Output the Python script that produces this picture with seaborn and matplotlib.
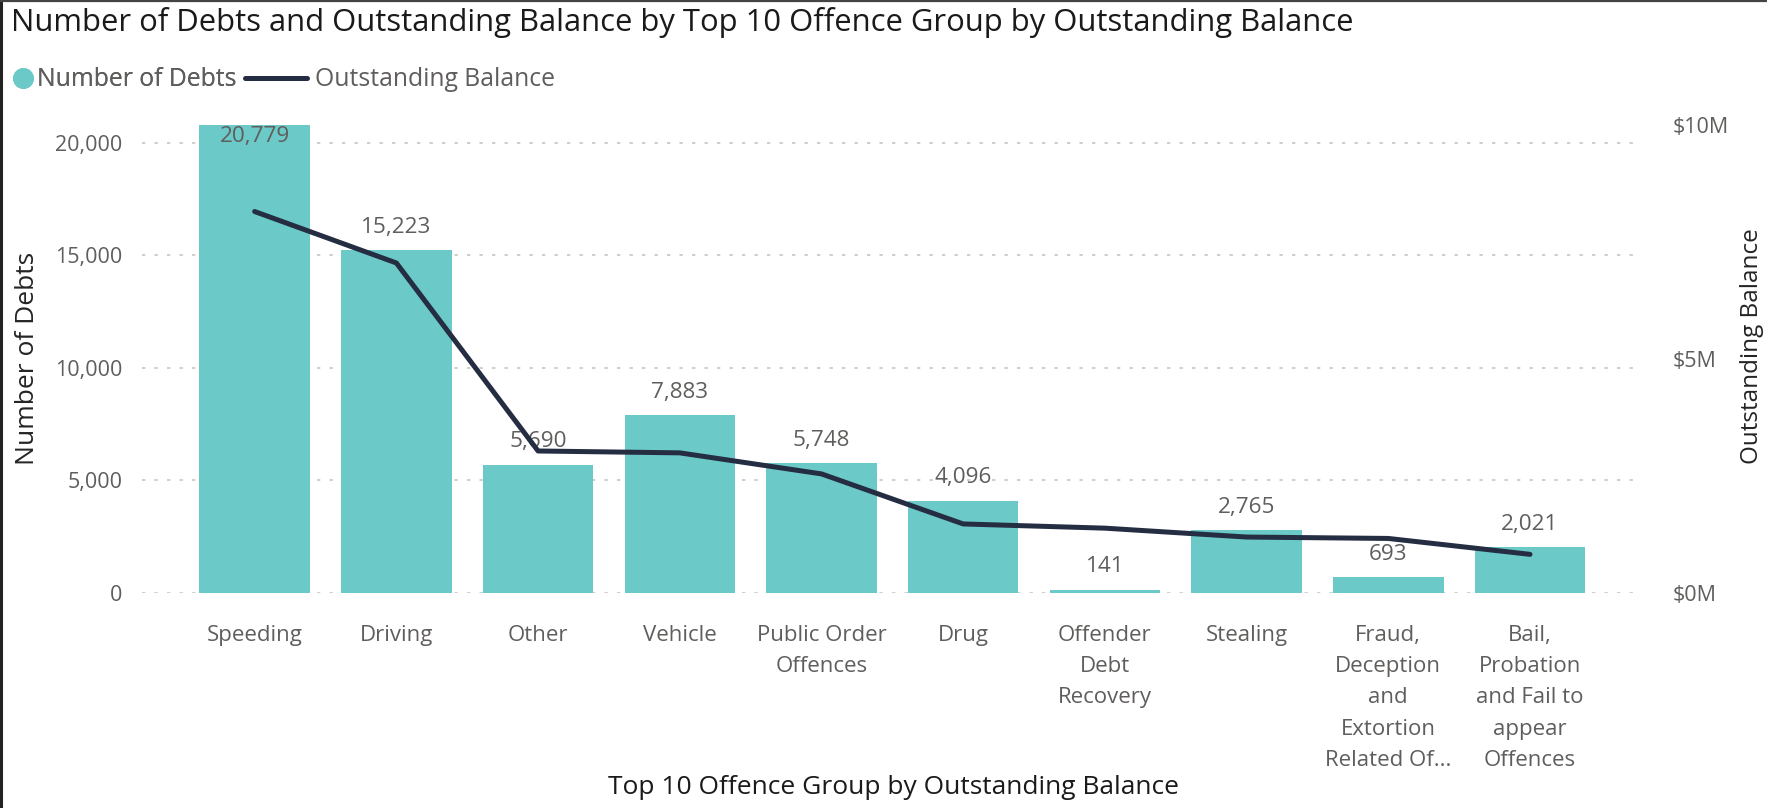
import matplotlib
matplotlib.use("Agg")
import matplotlib.pyplot as plt
import seaborn as sns
import numpy as np
import pandas as pd
from matplotlib.lines import Line2D
from matplotlib.ticker import FuncFormatter

# ---------------- data ----------------
categories = ["Speeding", "Driving", "Other", "Vehicle", "Public Order Offences", "Drug",
              "Offender Debt Recovery", "Stealing",
              "Fraud, Deception and Extortion Related Offences",
              "Bail, Probation and Fail to appear Offences"]
tick_labels = ["Speeding", "Driving", "Other", "Vehicle", "Public Order\nOffences", "Drug",
               "Offender\nDebt\nRecovery", "Stealing",
               "Fraud,\nDeception\nand\nExtortion\nRelated Of...",
               "Bail,\nProbation\nand Fail to\nappear\nOffences"]
num_debts = [20779, 15223, 5690, 7883, 5748, 4096, 141, 2765, 693, 2021]
balance_millions = [8.15, 7.05, 3.03, 2.99, 2.54, 1.47, 1.38, 1.19, 1.16, 0.82]
left_ticks = [0, 5000, 10000, 15000, 20000]
right_ticks_millions = [0, 5, 10]

BAR = "#6BC9C8"
LINE = "#252D42"
GREY = "#605E5C"
DARK = "#252423"
GRID = "#C8C6C4"

sns.set_theme(style="white")
plt.rcParams["font.family"] = ["Open Sans", "DejaVu Sans"]

W, H = 1767, 808
fig = plt.figure(figsize=(W / 100, H / 100), dpi=100)
fig.patch.set_facecolor("white")

x0, x1, ytop, ybot = 142, 1637, 125, 592.7
ax = fig.add_axes([x0 / W, 1 - ybot / H, (x1 - x0) / W, (ybot - ytop) / H])

df = pd.DataFrame({"Offence": categories, "Debts": num_debts,
                   "Balance": np.array(balance_millions) * 1e6})

sns.barplot(data=df, x="Offence", y="Debts", order=categories, color=BAR,
            saturation=1, width=0.78, linewidth=0, ax=ax, zorder=2)

ax.set_ylim(0, max(num_debts))
ax.set_yticks(left_ticks)
ax.yaxis.set_major_formatter(FuncFormatter(lambda v, p: f"{int(v):,}"))
ax.set_xticks(range(len(categories)))
ax.set_xticklabels(tick_labels, linespacing=1.65)
ax.tick_params(axis="x", length=0, pad=23, labelsize=16, labelcolor=GREY)
ax.tick_params(axis="y", length=0, pad=14, labelsize=15.5, labelcolor=GREY)
ax.grid(axis="y", color=GRID, linewidth=1.2, linestyle=(0, (2, 5.5)), zorder=0)
ax.set_axisbelow(True)
for s in ax.spines.values():
    s.set_visible(False)
ax.set_xlabel("")
ax.set_ylabel("")

# data labels
ymax = max(num_debts)
for i, v in enumerate(num_debts):
    if v > 0.95 * ymax:
        ax.annotate(f"{v:,}", (i, v), xytext=(0, -1), textcoords="offset points",
                    ha="center", va="top", fontsize=16.2, color=GREY, zorder=3)
    else:
        ax.annotate(f"{v:,}", (i, v), xytext=(0, 9), textcoords="offset points",
                    ha="center", va="bottom", fontsize=16.2, color=GREY, zorder=3)

# line on secondary axis
ax2 = ax.twinx()
sns.lineplot(x=np.arange(len(categories)), y=df["Balance"].values, ax=ax2, color=LINE,
             linewidth=3.6, sort=False, solid_capstyle="round", solid_joinstyle="round")
ax2.set_ylim(0, 10e6)
ax2.set_yticks([t * 1e6 for t in right_ticks_millions])
ax2.yaxis.set_major_formatter(FuncFormatter(lambda v, p: f"${v / 1e6:.0f}M"))
ax2.tick_params(axis="y", length=0, pad=26, labelsize=15.5, labelcolor=GREY)
ax2.grid(False)
for s in ax2.spines.values():
    s.set_visible(False)
ax2.set_ylabel("")
ax.set_xlim(-0.795, 9.755)

# titles
fig.text(11 / W, 1 - 22 / H, "Number of Debts and Outstanding Balance by Top 10 Offence Group by Outstanding Balance",
         ha="left", va="center", fontsize=22.3, color="#1a1a1a")
fig.text(28 / W, 1 - 358 / H, "Number of Debts", rotation=90, ha="center", va="center",
         fontsize=19, color=DARK)
fig.text(1752 / W, 1 - 346 / H, "Outstanding Balance", rotation=90, ha="center", va="center",
         fontsize=17.5, color=DARK)
fig.text(893 / W, 1 - 788 / H, "Top 10 Offence Group by Outstanding Balance", ha="center", va="center",
         fontsize=19, color="#1a1a1a")

# legend
h1 = [Line2D([], [], marker="o", linestyle="none", markersize=14, color=BAR)]
h2 = [Line2D([], [], color=LINE, linewidth=3.6)]
leg1 = fig.legend(h1, ["Number of Debts"], loc="center left", bbox_to_anchor=(4 / W, 1 - 80 / H),
                  frameon=False, handlelength=0.75, handletextpad=0.2, fontsize=17.8,
                  labelcolor=GREY, borderaxespad=0)
leg2 = fig.legend(h2, ["Outstanding Balance"], loc="center left", bbox_to_anchor=(235 / W, 1 - 80 / H),
                  frameon=False, handlelength=2.5, handletextpad=0.35, fontsize=17.8,
                  labelcolor=GREY, borderaxespad=0)
fig.add_artist(leg1)

# border (left and top edges only)
fig.add_artist(Line2D([0.0006, 0.0006], [0, 1], transform=fig.transFigure, color="#222222", linewidth=2.2))
fig.add_artist(Line2D([0, 1], [0.999, 0.999], transform=fig.transFigure, color="#444444", linewidth=1.6))

fig.savefig("out.png", dpi=100)
